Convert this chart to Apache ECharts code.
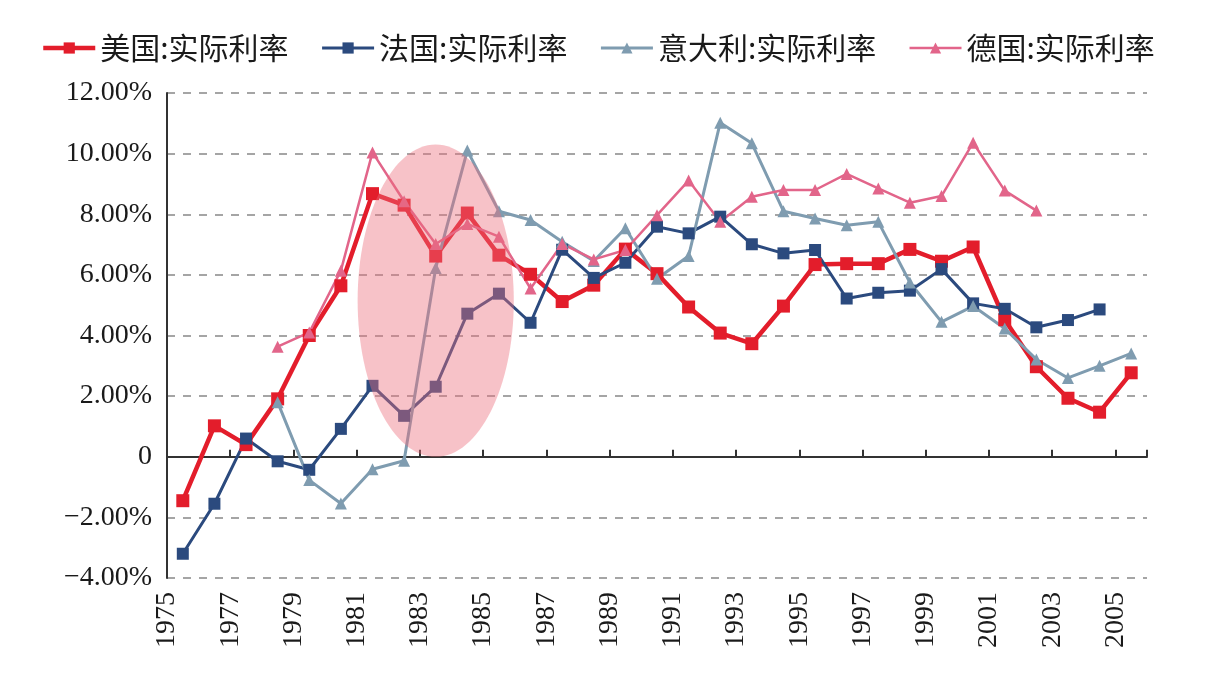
<!DOCTYPE html>
<html>
<head>
<meta charset="utf-8">
<script src="https://cdn.jsdelivr.net/npm/echarts@6/dist/echarts.min.js"></script>
<style>
  html, body { margin: 0; padding: 0; background: #fff; }
  #chart { width: 1205px; height: 684px; }
</style>
</head>
<body>
<div id="chart"></div>
<script>
// Years (categories)
const years = [];
for (let y = 1975; y <= 2005; y++) years.push(String(y));

// Real interest rates, %
const usRate = [-1.45, 1.02, 0.40, 1.91, 4.00, 5.64, 8.68, 8.30, 6.62, 8.04,
                6.65, 6.02, 5.12, 5.66, 6.85, 6.04, 4.94, 4.08, 3.73, 4.97,
                6.34, 6.37, 6.37, 6.84, 6.45, 6.92, 4.52, 2.97, 1.93, 1.47, 2.77];
const frRate = [-3.20, -1.55, 0.60, -0.15, -0.43, 0.92, 2.34, 1.35, 2.31, 4.72,
                5.38, 4.42, 6.83, 5.90, 6.40, 7.59, 7.37, 7.92, 7.01, 6.71,
                6.82, 5.22, 5.41, 5.48, 6.19, 5.06, 4.88, 4.27, 4.51, 4.86, null];
const itRate = [null, null, null, 1.80, -0.77, -1.54, -0.41, -0.13, 6.23, 10.10,
                8.10, 7.81, 7.09, 6.46, 7.54, 5.87, 6.62, 11.02, 10.34, 8.10,
                7.86, 7.64, 7.75, 5.75, 4.45, 4.97, 4.23, 3.21, 2.60, 3.00, 3.41];
const deRate = [null, null, null, 3.63, 4.10, 6.14, 10.04, 8.43, 7.02, 7.68,
                7.26, 5.55, 7.02, 6.51, 6.82, 7.97, 9.11, 7.75, 8.58, 8.80,
                8.80, 9.33, 8.85, 8.38, 8.60, 10.36, 8.78, 8.12, null, null, null];

const seriesNames = ['美国:实际利率', '法国:实际利率', '意大利:实际利率', '德国:实际利率'];

// Highlight ellipse (1981-1985 region)
const ellipseCenterYear = '1983';
const ellipseCenterValue = 5.15;
const ellipseHalfValue = 5.15;
const ellipseHalfYears = 2.47;

const serif = '"Liberation Serif", "DejaVu Serif", serif';

let chart = echarts.init(document.getElementById('chart'));

function pctLabel(v) {
    if (v === 0) return '0';
    let s = Math.abs(v).toFixed(2) + '%';
    return v < 0 ? '\u2212' + s : s;
}

let option = {
    animation: false,
    backgroundColor: '#fff',
    legend: {
        top: 28,
        left: 36,
        itemWidth: 52,
        itemHeight: 14,
        itemGap: 32,
        lineStyle: { width: 'inherit' },
        textStyle: { fontSize: 30, color: '#1a1a1a', fontFamily: '"Noto Sans CJK SC", sans-serif' },
        data: seriesNames
    },
    grid: { left: 167, right: 58, top: 93, bottom: 106 },
    xAxis: [
        {
            type: 'category',
            data: years,
            boundaryGap: true,
            position: 'bottom',
            axisLine: { onZero: true, lineStyle: { color: '#333', width: 2 } },
            axisTick: { show: true, inside: true, interval: 1, length: 7, lineStyle: { color: '#333', width: 2 } },
            axisLabel: { show: false },
            splitLine: { show: false }
        },
        {
            // tick labels sit on category boundaries
            type: 'value',
            min: 0,
            max: years.length,
            interval: 2,
            position: 'bottom',
            axisLine: { show: false, onZero: false },
            axisTick: { show: false },
            splitLine: { show: false },
            axisLabel: {
                rotate: 90,
                margin: 14,
                fontSize: 28,
                color: '#1a1a1a',
                fontFamily: serif,
                formatter: v => years[v] || ''
            }
        }
    ],
    yAxis: {
        type: 'value',
        min: -4,
        max: 12,
        interval: 2,
        axisLine: { show: true, lineStyle: { color: '#333', width: 2 } },
        axisTick: { show: false },
        axisLabel: { fontSize: 28, color: '#1a1a1a', fontFamily: serif, margin: 15, formatter: pctLabel },
        splitLine: { show: true, lineStyle: { color: '#888', width: 1.5, type: [8, 8] } }
    },
    series: [
        {
            name: seriesNames[0], type: 'line', data: usRate,
            color: '#E31D2B', symbol: 'rect', symbolSize: 13,
            lineStyle: { width: 4.5 }, z: 3
        },
        {
            name: seriesNames[1], type: 'line', data: frRate,
            color: '#2B4A7E', symbol: 'rect', symbolSize: 12,
            lineStyle: { width: 3 }, z: 3
        },
        {
            name: seriesNames[2], type: 'line', data: itRate,
            color: '#7F9CB0', symbol: 'triangle', symbolSize: 12,
            lineStyle: { width: 3 }, z: 3
        },
        {
            name: seriesNames[3], type: 'line', data: deRate,
            color: '#E2658A', symbol: 'triangle', symbolSize: 12,
            lineStyle: { width: 2.5 }, z: 3
        }
    ]
};

chart.setOption(option);

// Ellipse placed through the axes' own scales
let centerPx = chart.convertToPixel({ xAxisIndex: 0, yAxisIndex: 0 }, [ellipseCenterYear, ellipseCenterValue]);
let nextYearPx = chart.convertToPixel({ xAxisIndex: 0 }, '1984');
let topPx = chart.convertToPixel({ yAxisIndex: 0 }, ellipseCenterValue + ellipseHalfValue);
chart.setOption({
    graphic: [{
        type: 'ellipse',
        z: 50,
        silent: true,
        shape: {
            cx: centerPx[0], cy: centerPx[1],
            rx: (nextYearPx - centerPx[0]) * ellipseHalfYears,
            ry: centerPx[1] - topPx
        },
        style: { fill: 'rgba(236,110,125,0.42)' }
    }]
});
</script>
</body>
</html>
